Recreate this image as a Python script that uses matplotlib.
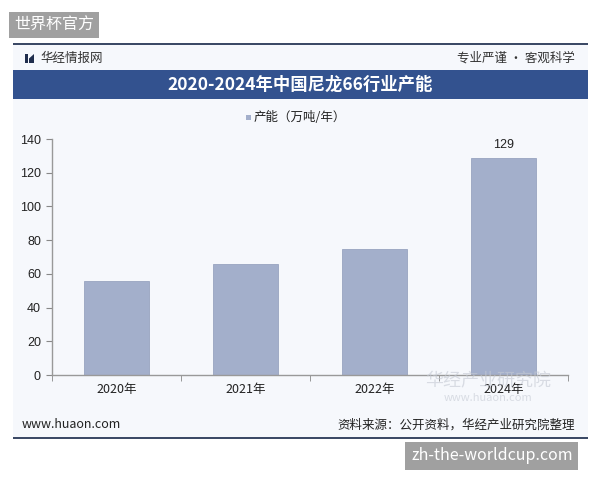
import matplotlib
matplotlib.use("Agg")
import matplotlib.pyplot as plt
from matplotlib.patches import Rectangle, Polygon
import numpy as np

plt.rcParams['font.family'] = ['Noto Sans CJK SC', 'DejaVu Sans']

categories = ['2020年', '2021年', '2022年', '2024年']
values = [56, 66, 75, 129]
yticks = [0, 20, 40, 60, 80, 100, 120, 140]
title = '2020-2024年中国尼龙66行业产能'
legend_label = '产能（万吨/年）'

W, H = 600, 480
fig = plt.figure(figsize=(6, 4.8), dpi=100)
fig.patch.set_facecolor('white')

def fx(x): return x / W
def fy(y): return 1 - y / H

# card background
fig.patches.append(Rectangle((fx(13), fy(438)), fx(575), (438 - 44) / H,
                             transform=fig.transFigure, facecolor='#f6f8fc',
                             edgecolor='none', zorder=-5))
# top and bottom lines
for yy in (44, 438):
    fig.patches.append(Rectangle((fx(13), fy(yy) - 1.0 / H), fx(575), 2.0 / H,
                                 transform=fig.transFigure, facecolor='#3c4a66',
                                 edgecolor='none', zorder=1))
# title bar
fig.patches.append(Rectangle((fx(13), fy(99)), fx(575), (99 - 70) / H,
                             transform=fig.transFigure, facecolor='#33528f',
                             edgecolor='none', zorder=1))
fig.text(fx(300), fy(85), title, color='white', fontsize=12.5, fontweight='bold',
         ha='center', va='center', zorder=2)

# header logo icon
fig.patches.append(Rectangle((fx(25), fy(63)), 3 / W, 9 / H, transform=fig.transFigure,
                             facecolor='#1f2d4d', edgecolor='none', zorder=2))
fig.patches.append(Polygon([(fx(29), fy(58.5)), (fx(34), fy(54)), (fx(34), fy(63)),
                            (fx(29), fy(63))], closed=True, transform=fig.transFigure,
                           facecolor='#1f2d4d', edgecolor='none', zorder=2))
fig.text(fx(40), fy(58), '华经情报网', fontsize=9, color='#333333', ha='left', va='center')
fig.text(fx(575), fy(58), '专业严谨 • 客观科学', fontsize=9, color='#333333', ha='right', va='center')

# axes
ax = fig.add_axes([fx(52), fy(375), (568 - 52) / W, (375 - 139) / H])
ax.set_facecolor('none')
x = np.arange(len(categories))
ax.bar(x, values, width=0.5, color='#a3afcb', edgecolor='#98a4c0', linewidth=0.6, zorder=2)
ax.set_xlim(-0.5, len(categories) - 0.5)
ax.set_ylim(0, 140)
ax.set_yticks(yticks)
ax.set_yticklabels([str(t) for t in yticks], fontsize=9, color='#222222', family=['Liberation Sans', 'DejaVu Sans'])
ax.set_xticks(x)
ax.set_xticklabels(categories, fontsize=9, color='#222222')
ax.set_xticks(np.arange(-0.5, len(categories)), minor=True)
ax.tick_params(axis='x', which='major', length=0, pad=6)
ax.tick_params(axis='x', which='minor', length=4, color='#888888', direction='out')
ax.tick_params(axis='y', length=4, color='#888888', direction='out', pad=4)
for s in ('top', 'right'):
    ax.spines[s].set_visible(False)
for s in ('left', 'bottom'):
    ax.spines[s].set_color('#999999')
    ax.spines[s].set_linewidth(1.0)
ax.bar_label(ax.containers[0], labels=['', '', '', str(values[3])], padding=5,
             fontsize=9, color='#222222', family=['Liberation Sans', 'DejaVu Sans'])

# legend
fig.patches.append(Rectangle((fx(246), fy(120)), 5 / W, 5 / H, transform=fig.transFigure,
                             facecolor='#a3afcb', edgecolor='none', zorder=2))
fig.text(fx(254), fy(117), legend_label, fontsize=9, color='#222222', ha='left', va='center')

# faint watermark
fig.text(fx(488), fy(381), '华经产业研究院', fontsize=13, color='#c4c9d3', alpha=0.6,
         ha='center', va='center', zorder=3)
fig.text(fx(488), fy(398), 'www.huaon.com', fontsize=8, color='#c4c9d3', alpha=0.6,
         ha='center', va='center', zorder=3)

# footer
fig.text(fx(22), fy(425), 'www.huaon.com', fontsize=9, color='#222222', ha='left', va='center')
fig.text(fx(575), fy(425), '资料来源：公开资料，华经产业研究院整理', fontsize=9, color='#222222',
         ha='right', va='center')

# overlay tags
fig.text(fx(14), fy(25), '世界杯官方', fontsize=11.5, color='white', ha='left', va='center',
         bbox=dict(boxstyle='square,pad=0.3', facecolor='#a0a0a0', edgecolor='none'))
fig.text(fx(411), fy(456), 'zh-the-worldcup.com', fontsize=11.5, color='white', ha='left',
         va='center', bbox=dict(boxstyle='square,pad=0.35', facecolor='#a0a0a0', edgecolor='none'))

fig.savefig('out.png', dpi=100)
